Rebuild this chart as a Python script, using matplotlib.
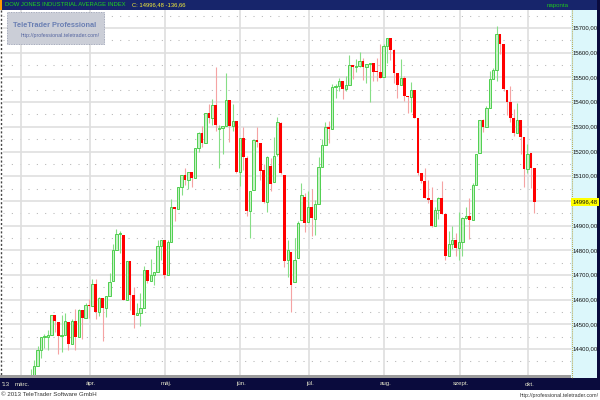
import numpy as np
import pandas as pd
import matplotlib
matplotlib.use('Agg')
import matplotlib.pyplot as plt
from matplotlib.patches import Rectangle
from matplotlib.lines import Line2D
from matplotlib import transforms, font_manager

# trading days, Mar 1 - Oct 3 2013 (NYSE holidays removed)
holidays = ['2013-03-29', '2013-05-27', '2013-07-04', '2013-09-02']
days = pd.bdate_range('2013-03-01', '2013-10-03')
days = days[~days.isin(pd.to_datetime(holidays))]

opens = [
    14054, 14090, 14130, 14255, 14296, 14330, 14396, 14447, 14450, 14455, 14539, 14511, 14452, 14456, 14511, 14422, 14512, 14448, 14559, 14527,
    14579, 14575, 14662, 14550, 14606, 14565, 14613, 14674, 14802, 14865, 14863, 14599, 14756, 14618, 14537, 14547, 14567, 14719, 14676, 14701, 14712, 14818,
    14840, 14701, 14832, 14974, 14969, 15056, 15105, 15083, 15118, 15092, 15215, 15276, 15233, 15354, 15335, 15388, 15290, 15294, 15304, 15408, 15303, 15324,
    15116, 15254, 15174, 14958, 15045, 15248, 15236, 15125, 14996, 15140, 15076, 15190, 15316, 15105, 14760, 14793, 14672, 14769, 14922, 15016,
    14915, 14975, 14925, 14989, 15136, 15225, 15300, 15292, 15461, 15464, 15484, 15452, 15471, 15549, 15544, 15546, 15568, 15542, 15556, 15559, 15522, 15521,
    15500, 15628, 15658, 15611, 15518, 15471, 15498, 15425, 15420, 15451, 15337, 15112, 15081, 15011, 15003, 14898, 14964, 15010, 14946, 14776, 14825, 14841,
    14810, 14834, 14931, 14938, 14923, 15064, 15192, 15326, 15300, 15377, 15495, 15530, 15677, 15636, 15451, 15401, 15335, 15273, 15328, 15258,
    15130, 15192, 15133,
]
highs = [
    14090, 14128, 14286, 14320, 14354, 14413, 14448, 14461, 14478, 14539, 14539, 14511, 14536, 14546, 14511, 14521, 14563, 14563, 14559, 14585,
    14604, 14684, 14683, 14612, 14606, 14613, 14709, 14826, 14888, 14880, 14863, 14757, 14756, 14650, 14587, 14627, 14737, 14721, 14763, 14713, 14843, 14840,
    14840, 14840, 15009, 14974, 15056, 15106, 15134, 15119, 15118, 15216, 15280, 15304, 15355, 15392, 15413, 15542, 15307, 15304, 15518, 15408, 15393, 15324,
    15255, 15300, 15180, 15040, 15248, 15300, 15236, 15150, 15180, 15175, 15258, 15340, 15320, 15105, 14842, 14793, 14850, 14920, 15073, 15032,
    15040, 15050, 15002, 15178, 15249, 15319, 15322, 15474, 15475, 15499, 15484, 15506, 15590, 15549, 15575, 15604, 15579, 15556, 15560, 15559, 15580, 15634,
    15634, 15658, 15658, 15614, 15518, 15573, 15507, 15425, 15482, 15451, 15337, 15112, 15132, 15083, 15055, 14976, 15014, 15081, 14946, 14879, 14899, 14870,
    14957, 14936, 14974, 15010, 15074, 15191, 15326, 15330, 15385, 15528, 15538, 15709, 15677, 15636, 15451, 15465, 15374, 15395, 15328, 15258,
    15231, 15192, 15133,
]
lows = [
    13937, 14024, 14130, 14253, 14296, 14330, 14365, 14406, 14398, 14455, 14470, 14382, 14390, 14456, 14395, 14422, 14395, 14448, 14439, 14527,
    14524, 14575, 14521, 14533, 14434, 14528, 14613, 14674, 14802, 14790, 14598, 14599, 14558, 14484, 14537, 14493, 14567, 14666, 14676, 14660, 14712, 14762,
    14687, 14701, 14832, 14920, 14969, 15023, 15064, 15049, 15056, 15092, 15200, 15220, 15233, 15315, 15307, 15282, 15135, 15190, 15304, 15238, 15283, 15113,
    15060, 15125, 14940, 14850, 15045, 15220, 15085, 14990, 14955, 15040, 15076, 15180, 15110, 14733, 14692, 14551, 14672, 14769, 14922, 14874,
    14915, 14858, 14860, 14989, 15136, 15225, 15234, 15292, 15417, 15444, 15414, 15446, 15471, 15493, 15521, 15541, 15489, 15478, 15400, 15486, 15486, 15499,
    15500, 15559, 15572, 15476, 15415, 15471, 15405, 15356, 15361, 15334, 15106, 15074, 15010, 14990, 14895, 14898, 14925, 14946, 14760, 14776, 14806, 14777,
    14761, 14777, 14925, 14846, 14923, 15064, 15192, 15277, 15300, 15377, 15495, 15486, 15595, 15445, 15349, 15319, 15264, 15273, 15190, 15055,
    15114, 15054, 14953,
]
closes = [
    14089.66, 14127.82, 14253.77, 14296.24, 14329.49, 14397.07, 14447.29, 14450.06, 14455.28, 14539.14, 14514.11, 14452.06, 14455.82, 14511.73, 14421.49, 14512.03, 14447.75, 14559.65, 14526.16, 14578.54,
    14572.85, 14662.01, 14550.35, 14606.11, 14565.25, 14613.48, 14673.46, 14802.24, 14865.14, 14865.06, 14599.20, 14756.78, 14618.59, 14537.14, 14547.51, 14567.17, 14719.46, 14676.30, 14700.80, 14712.55, 14818.75, 14839.80,
    14700.95, 14831.58, 14973.96, 14968.89, 15056.20, 15105.12, 15082.62, 15118.49, 15091.68, 15215.25, 15275.69, 15233.22, 15354.40, 15335.28, 15387.58, 15307.17, 15294.50, 15303.10, 15409.39, 15302.80, 15324.53, 15115.57,
    15254.03, 15177.54, 14960.59, 15040.62, 15248.12, 15238.59, 15122.02, 14995.23, 15176.08, 15070.18, 15179.85, 15318.23, 15112.19, 14758.32, 14799.40, 14659.56, 14760.31, 14910.14, 15024.49, 14909.60,
    14974.96, 14932.41, 14988.55, 15135.84, 15224.69, 15300.34, 15291.66, 15460.92, 15464.30, 15484.26, 15451.85, 15470.52, 15548.54, 15543.74, 15545.55, 15567.74, 15542.24, 15555.61, 15558.83, 15521.97, 15520.59, 15499.54,
    15628.02, 15658.36, 15612.13, 15518.74, 15470.67, 15498.32, 15425.51, 15419.68, 15451.01, 15337.66, 15112.19, 15081.47, 15010.74, 15002.99, 14897.55, 14963.74, 15010.51, 14946.46, 14776.13, 14824.51, 14840.95, 14810.31,
    14833.96, 14930.87, 14937.48, 14922.50, 15063.12, 15191.06, 15326.60, 15300.64, 15376.06, 15494.78, 15529.73, 15676.94, 15636.55, 15451.09, 15401.38, 15334.59, 15273.26, 15328.30, 15258.24, 15129.67,
    15191.70, 15133.14, 14996.48,
]
month_labels = ['márc.', 'ápr.', 'máj.', 'jún.', 'júl.', 'aug.', 'szept.', 'okt.']
price_ticks = list(range(14400, 15800, 100))
title = 'DOW JONES INDUSTRIAL AVERAGE INDEX'

o = np.array(opens, float)
h = np.array(highs, float)
l = np.array(lows, float)
c = np.array(closes, float)
x = np.arange(len(days))
last, change = c[-1], c[-1] - c[-2]

def hu(v):
    return f'{v:.2f}'.replace('.', ',')

# narrow font if present
names = {f.name for f in font_manager.fontManager.ttflist}
if 'Liberation Sans Narrow' in names:
    FONT, k = 'Liberation Sans Narrow', 1.0
else:
    FONT, k = 'Liberation Sans', 0.85
plt.rcParams['font.family'] = [FONT, 'DejaVu Sans']

W, H = 600, 400
def fx(px):
    return px / W
def fy(py):
    return 1 - py / H

fig = plt.figure(figsize=(6, 4), dpi=100)
fig.patch.set_facecolor('white')
ax = fig.add_axes([fx(3), fy(375), 568 / W, 365 / H])
ax.set_xlim(-5.11, 160.7)
ax.set_ylim(14295, 15773)
ax.set_facecolor('white')
for s in ax.spines.values():
    s.set_visible(False)
ax.set_xticks([])
ax.set_yticks([])

# grid
for v in price_ticks:
    ax.axhline(v, color='#e2e2e2', lw=1.3, zorder=0)
for v in np.arange(14350, 15800, 100):
    ax.axhline(v, color='#b4b4b4', lw=0.75, ls=(0, (1, 7)), zorder=0)
months = days.to_period('M')
month_start = [i for i in range(len(days)) if i == 0 or months[i] != months[i - 1]]
for i in month_start:
    ax.axvline(i + 0.2, color='#dedede', lw=1.2, zorder=0)

# candles
up = c >= o
ax.vlines(x[up], l[up], h[up], color='#86de86', lw=0.8, zorder=2)
ax.vlines(x[~up], l[~up], h[~up], color='#f5a3a3', lw=0.8, zorder=2)
minh = 4.0
ax.bar(x[up], np.maximum(c[up] - o[up], minh), bottom=o[up], width=0.68,
       color='#c6f1c6', edgecolor='#4fcf4f', linewidth=0.7, zorder=3)
ax.bar(x[~up], np.maximum(o[~up] - c[~up], minh), bottom=c[~up], width=0.8,
       color='#ff0000', linewidth=0, zorder=3)

# frame pieces
def band(x0, y0, x1, y1, color, z=1):
    fig.patches.append(Rectangle((fx(x0), fy(y1)), (x1 - x0) / W, (y1 - y0) / H,
                                 transform=fig.transFigure, facecolor=color, edgecolor='none', zorder=z))

band(0, 0, 600, 10, '#17256b')
band(0, 0, 2, 10, '#ff9a00', 2)
band(571, 10, 597, 378, '#dcf7fb')
band(0, 375, 571, 378, '#9c9c9c')
band(0, 378, 600, 390, '#0a0b3d')
band(597, 0, 600, 390, '#0a0b3d')
fig.lines.append(Line2D([fx(571.5)] * 2, [fy(10), fy(378)], transform=fig.transFigure,
                        color='#b8a850', lw=0.75, ls=(0, (1, 1))))
fig.lines.append(Line2D([fx(1)] * 2, [fy(10), fy(375)], transform=fig.transFigure,
                        color='#444444', lw=1.0, ls=(0, (1.5, 1.5))))

# watermark box
fig.patches.append(Rectangle((fx(7), fy(44)), 97 / W, 32 / H, transform=fig.transFigure,
                             facecolor='#cbced7', edgecolor='#9097ad', lw=0.6, ls=(0, (1, 1)), zorder=5))
fig.text(fx(55), fy(25.5), 'TeleTrader Professional', color='#6a7fb3', fontsize=6.3 * k,
         fontweight='bold', ha='center', va='center', zorder=6)
fig.text(fx(60), fy(36), 'http://professional.teletrader.com/', color='#5565a0',
         fontsize=4.4 * k, ha='center', va='center', zorder=6)

# title bar
fig.text(fx(5), fy(5), title, color='#1fd31f', fontsize=4.95 * k, ha='left', va='center', zorder=6)
fig.text(fx(132), fy(5), 'C: ' + hu(last) + ' ' + hu(change), color='#f6ee3a',
         fontsize=4.95 * k, ha='left', va='center', zorder=6)
fig.text(fx(558), fy(5), 'naponta', color='#1fc41f', fontsize=5.2 * k, ha='center', va='center', zorder=6)

# price axis
ty = transforms.blended_transform_factory(fig.transFigure, ax.transData)
for v in price_ticks:
    if abs(v - last) < 50:
        continue
    fig.text(fx(572.5), v, hu(v), transform=ty, fontsize=5.05 * k, color='#111111',
             ha='left', va='center', zorder=6)
fig.text(fx(572.5), last, hu(last), transform=ty, fontsize=5.05 * k, color='#111111',
         ha='left', va='center', zorder=6,
         bbox=dict(boxstyle='square,pad=0.25', fc='#ffff00', ec='none'))

# month labels
tx = transforms.blended_transform_factory(ax.transData, fig.transFigure)
for i, lab in zip(month_start, month_labels):
    fig.text(i + 0.5, fy(384), lab, transform=tx, fontsize=5.2 * k, color='#e6e6cc',
             ha='center', va='center', zorder=6)
fig.text(fx(2), fy(384), "'13", fontsize=5.2 * k, color='#e6e6cc', ha='left', va='center', zorder=6)

# footer
fig.text(fx(1), fy(395), '© 2013 TeleTrader Software GmbH', fontsize=5.2 * k,
         color='#333333', ha='left', va='center')
fig.text(fx(599), fy(395), 'http://professional.teletrader.com/', fontsize=4.5 * k,
         color='#333333', ha='right', va='center')

fig.savefig('out.png', dpi=100)
